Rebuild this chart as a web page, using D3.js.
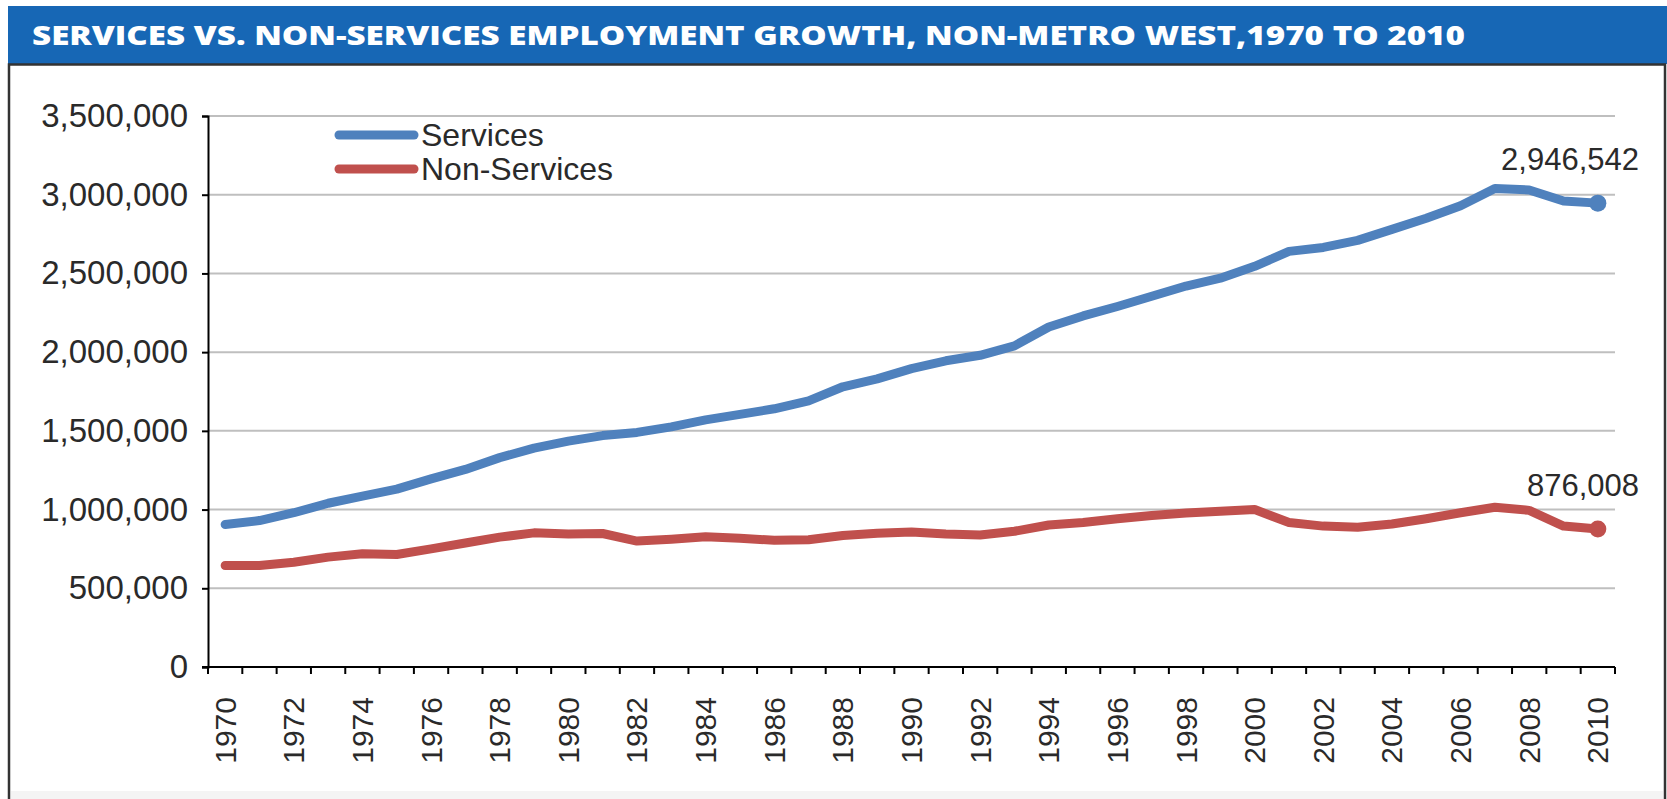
<!DOCTYPE html>
<html>
<head>
<meta charset="utf-8">
<script src="https://cdn.jsdelivr.net/npm/d3@7"></script>
<style>
  body { margin: 0; background: #fff; }
  svg { display: block; }
</style>
</head>
<body>
<svg id="chart" width="1667" height="799"></svg>
<script>
// data
const years = d3.range(1970, 2011)
const services = [905000, 930000, 980000, 1040000, 1085000, 1130000, 1195000, 1255000, 1330000, 1390000,
  1435000, 1470000, 1490000, 1525000, 1570000, 1605000, 1640000, 1690000, 1780000, 1830000,
  1895000, 1945000, 1980000, 2040000, 2160000, 2230000, 2290000, 2355000, 2420000, 2470000,
  2545000, 2640000, 2665000, 2710000, 2780000, 2850000, 2930000, 3040000, 3030000, 2960000, 2946542]
const nonServices = [645000, 645000, 665000, 698000, 720000, 715000, 750000, 788000, 825000, 852000,
  845000, 848000, 800000, 812000, 828000, 818000, 805000, 808000, 835000, 850000,
  858000, 845000, 838000, 862000, 902000, 918000, 942000, 962000, 978000, 990000,
  1000000, 918000, 895000, 888000, 908000, 942000, 980000, 1015000, 995000, 895000, 876008]
const yTicks = [0, 500000, 1000000, 1500000, 2000000, 2500000, 3000000, 3500000]
const seriesNames = ['Services', 'Non-Services']
const seriesColors = ['#4f81bd', '#c0504d']

const svg = d3.select('#chart')
const font = 'Liberation Sans, Arial, sans-serif'

// title bar and panel
svg.append('rect').attr('x', 8).attr('y', 6).attr('width', 1659).attr('height', 58).attr('fill', '#1767b5')
svg.append('text')
  .attr('x', 32).attr('y', 45)
  .attr('fill', '#fff')
  .style('font-family', 'Open Sans, Lato, sans-serif')
  .style('font-weight', 800)
  .style('font-size', '26px')
  .attr('textLength', 1433)
  .attr('lengthAdjust', 'spacingAndGlyphs')
  .text('SERVICES VS. NON-SERVICES EMPLOYMENT GROWTH, NON-METRO WEST,1970 TO 2010')
svg.append('path')
  .attr('d', 'M9,799 V64.5 H1665 V799')
  .attr('fill', 'none').attr('stroke', '#333').attr('stroke-width', 2.5)
svg.append('rect').attr('x', 11).attr('y', 791).attr('width', 1652).attr('height', 8).attr('fill', '#f4f4f4')

const margin = {top: 116, left: 208}
const width = 1615 - 208
const height = 667 - 116

const g = svg.append('g').attr('transform', 'translate(' + margin.left + ',' + margin.top + ')')

const x = d3.scaleBand().domain(years).range([0, width])
const y = d3.scaleLinear().domain([0, 3500000]).range([height, 0])
const cx = d => x(d) + x.bandwidth() / 2

// gridlines
g.append('g').attr('class', 'grid')
  .selectAll('line')
  .data(yTicks.filter(d => d > 0))
  .enter().append('line')
    .attr('x1', 0).attr('x2', width)
    .attr('y1', d => y(d)).attr('y2', d => y(d))
    .attr('stroke', '#bfbfbf').attr('stroke-width', 2)

// y axis
const yAxis = d3.axisLeft(y).tickValues(yTicks).tickSize(6).tickPadding(14).tickFormat(d3.format(','))
g.append('g').attr('class', 'y axis').call(yAxis)
  .call(a => a.select('.domain').attr('stroke', '#000').attr('stroke-width', 2))
  .call(a => a.selectAll('.tick line').attr('stroke', '#000').attr('stroke-width', 2))
  .call(a => a.selectAll('.tick text').attr('fill', '#2a2a2a').style('font-family', font).style('font-size', '33px'))

// x axis: ticks on category edges, labels every other year
const xg = g.append('g').attr('class', 'x axis').attr('transform', 'translate(0,' + height + ')')
xg.append('line').attr('x1', -6).attr('x2', width).attr('stroke', '#000').attr('stroke-width', 2)
xg.selectAll('.xtick')
  .data(years.concat([2011]))
  .enter().append('line')
    .attr('class', 'xtick')
    .attr('x1', d => d === 2011 ? width : x(d))
    .attr('x2', d => d === 2011 ? width : x(d))
    .attr('y1', 0).attr('y2', 7)
    .attr('stroke', '#000').attr('stroke-width', 2)
xg.selectAll('.xlabel')
  .data(years.filter(d => d % 2 === 0))
  .enter().append('text')
    .attr('class', 'xlabel')
    .attr('transform', d => 'translate(' + (cx(d) + 10.5) + ',30) rotate(-90)')
    .attr('text-anchor', 'end')
    .attr('fill', '#2a2a2a')
    .style('font-family', font).style('font-size', '30px')
    .text(d => d)

// lines
const allSeries = [services, nonServices]
const line = d3.line().x((d, i) => cx(years[i])).y(d => y(d))
allSeries.forEach((s, k) => {
  g.append('path')
    .datum(s)
    .attr('d', line)
    .attr('fill', 'none')
    .attr('stroke', seriesColors[k])
    .attr('stroke-width', 9)
    .attr('stroke-linejoin', 'round')
    .attr('stroke-linecap', 'round')
  const last = s.length - 1
  g.append('circle')
    .attr('cx', cx(years[last])).attr('cy', y(s[last]))
    .attr('r', 8.5).attr('fill', seriesColors[k])
  g.append('text')
    .attr('x', 1639 - margin.left).attr('y', y(s[last]) - 33)
    .attr('text-anchor', 'end')
    .attr('fill', '#2a2a2a')
    .style('font-family', font).style('font-size', '31px')
    .text(d3.format(',')(s[last]))
})

// legend
const legend = svg.append('g').attr('class', 'legend')
seriesNames.forEach((name, k) => {
  const ly = 135 + k * 34
  legend.append('line')
    .attr('x1', 339).attr('x2', 414).attr('y1', ly).attr('y2', ly)
    .attr('stroke', seriesColors[k]).attr('stroke-width', 9).attr('stroke-linecap', 'round')
  legend.append('text')
    .attr('x', 421).attr('y', ly + 11)
    .attr('fill', '#2a2a2a')
    .style('font-family', font).style('font-size', '32px')
    .text(name)
})
</script>
</body>
</html>
